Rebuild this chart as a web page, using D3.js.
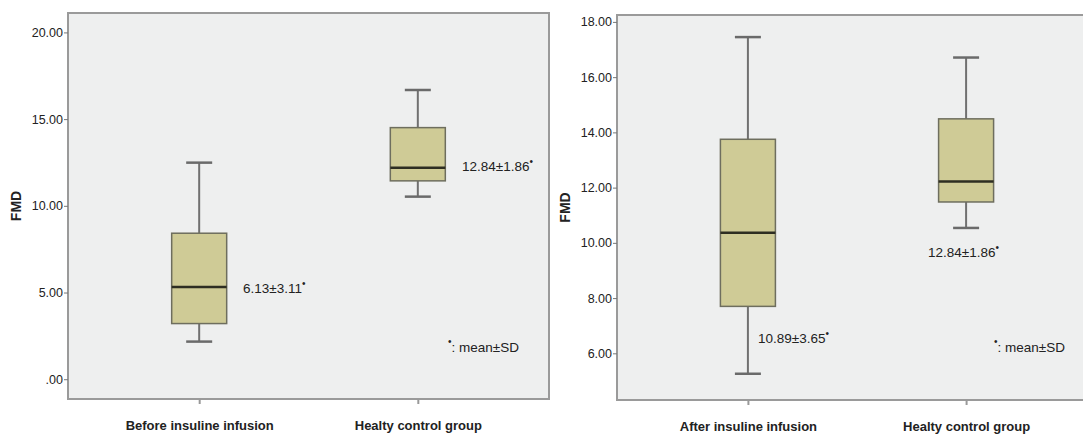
<!DOCTYPE html>
<html><head><meta charset="utf-8">
<script src="https://cdn.jsdelivr.net/npm/d3@7"></script>
<style>
body{margin:0;background:#fff;}
text{font-family:"Liberation Sans",Arial,sans-serif;}
</style></head>
<body><svg id="c" width="1083" height="435"></svg>
<script>
// Panel 1
const cats1 = ["Before insuline infusion", "Healty control group"];
const stats1 = [
  {min: 2.17, q1: 3.21, med: 5.32, q3: 8.42, max: 12.49},
  {min: 10.53, q1: 11.44, med: 12.20, q3: 14.51, max: 16.68}
];
const notes1 = ["6.13±3.11", "12.84±1.86"];
const ticks1 = [0, 5, 10, 15, 20];
const domain1 = [-1.14, 21.12];

// Panel 2
const cats2 = ["After insuline infusion", "Healty control group"];
const stats2 = [
  {min: 5.26, q1: 7.70, med: 10.37, q3: 13.75, max: 17.45},
  {min: 10.54, q1: 11.48, med: 12.22, q3: 14.49, max: 16.71}
];
const notes2 = ["10.89±3.65", "12.84±1.86"];
const ticks2 = [6, 8, 10, 12, 14, 16, 18];
const domain2 = [4.31, 18.25];

const legendText = ": mean±SD";
const yTitle = "FMD";

const svg = d3.select("#c");

function panel(cfg) {
  const {x0, y0, w, h, cats, stats, ticks, domain, notes, notePos, legendPos} = cfg;
  const g = svg.append("g").attr("transform", `translate(${x0},${y0})`);
  const x = d3.scalePoint().domain(cats).range([0, w]).padding(0.6);
  const y = d3.scaleLinear().domain(domain).range([h, 0]);

  g.append("rect").attr("x", 0).attr("y", 0).attr("width", w).attr("height", h)
    .attr("fill", "#eeefef").attr("stroke", "#9a9a9a").attr("stroke-width", 2);

  // y axis
  const fmt = v => v === 0 ? ".00" : d3.format(".2f")(v);
  const ya = g.append("g").call(d3.axisLeft(y).tickValues(ticks).tickFormat(fmt).tickSize(4).tickPadding(1));
  ya.select(".domain").remove();
  ya.selectAll(".tick line").attr("stroke", "#777");
  ya.selectAll(".tick text").attr("font-size", 12.5).attr("fill", "#222");

  // x axis ticks
  const xa = g.append("g").attr("transform", `translate(0,${h})`)
    .call(d3.axisBottom(x).tickSize(5).tickPadding(17));
  xa.select(".domain").remove();
  xa.selectAll(".tick line").attr("stroke", "#999").attr("stroke-width", 2);
  xa.selectAll(".tick text").attr("font-size", 13).attr("font-weight", "bold").attr("fill", "#222");

  const bw = 55, cw = 26;
  stats.forEach((s, i) => {
    const cx = x(cats[i]);
    const bg = g.append("g");
    bg.append("line").attr("x1", cx).attr("x2", cx).attr("y1", y(s.max)).attr("y2", y(s.q3))
      .attr("stroke", "#707070").attr("stroke-width", 2);
    bg.append("line").attr("x1", cx).attr("x2", cx).attr("y1", y(s.q1)).attr("y2", y(s.min))
      .attr("stroke", "#707070").attr("stroke-width", 2);
    [s.max, s.min].forEach(v => bg.append("line").attr("x1", cx - cw/2).attr("x2", cx + cw/2)
      .attr("y1", y(v)).attr("y2", y(v)).attr("stroke", "#6a6a6a").attr("stroke-width", 2.5));
    bg.append("rect").attr("x", cx - bw/2).attr("y", y(s.q3)).attr("width", bw).attr("height", y(s.q1) - y(s.q3))
      .attr("fill", "#cfcb96").attr("stroke", "#6e6e5e").attr("stroke-width", 1.5);
    bg.append("line").attr("x1", cx - bw/2).attr("x2", cx + bw/2).attr("y1", y(s.med)).attr("y2", y(s.med))
      .attr("stroke", "#2e2e22").attr("stroke-width", 2.5);
  });

  notes.forEach((n, i) => {
    const t = g.append("text").attr("x", notePos[i][0] - x0).attr("y", notePos[i][1] - y0)
      .attr("dy", "0.35em").attr("font-size", 13.5).attr("fill", "#222");
    t.append("tspan").text(n);
    t.append("tspan").text("•").attr("font-size", 10).attr("dy", "-0.55em");
  });
  const lt = g.append("text").attr("x", legendPos[0] - x0).attr("y", legendPos[1] - y0)
    .attr("dy", "0.35em").attr("font-size", 13.5).attr("fill", "#222");
  lt.append("tspan").text("•").attr("font-size", 10).attr("dy", "-0.5em");
  lt.append("tspan").text(legendText).attr("dy", "0.5em");

  svg.append("text").attr("transform", `translate(${x0 - 47},${y0 + h/2}) rotate(-90)`)
    .attr("text-anchor", "middle").attr("font-size", 14).attr("font-weight", "bold").attr("fill", "#222")
    .text(yTitle);
}

panel({x0: 68, y0: 13, w: 481, h: 386, cats: cats1, stats: stats1, ticks: ticks1, domain: domain1,
  notes: notes1, notePos: [[243, 288], [462, 166]], legendPos: [448, 350]});
panel({x0: 617, y0: 15, w: 480, h: 385, cats: cats2, stats: stats2, ticks: ticks2, domain: domain2,
  notes: notes2, notePos: [[758, 338], [928, 252]], legendPos: [994, 350]});
</script></body></html>
